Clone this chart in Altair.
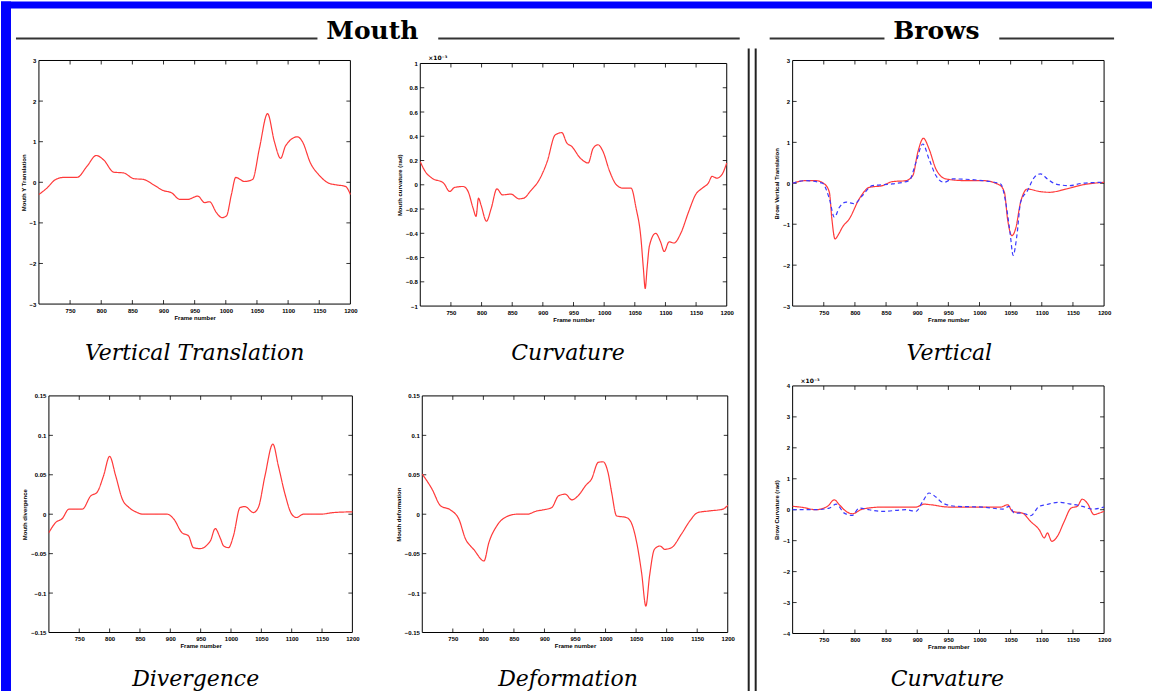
import altair as alt
import pandas as pd

# ---------------- data ----------------
FRAME_TICKS = [750, 800, 850, 900, 950, 1000, 1050, 1100, 1150, 1200]

# Mouth - Vertical Translation
vt_x = [700, 713, 727, 740, 761, 777, 792, 804, 820, 836, 852, 868, 884, 899, 913, 926, 939, 955, 966, 974,
        985, 994, 1001, 1009, 1016, 1030, 1043, 1054, 1067, 1078, 1088, 1096, 1115, 1123, 1136, 1149, 1165, 1176, 1192, 1200]
vt_y = [-0.30, -0.14, 0.07, 0.12, 0.12, 0.39, 0.66, 0.55, 0.25, 0.23, 0.09, 0.07, -0.06, -0.20, -0.26, -0.42, -0.42, -0.34, -0.50, -0.48,
        -0.75, -0.87, -0.83, -0.30, 0.12, 0.02, 0.07, 0.84, 1.69, 1.00, 0.59, 0.90, 1.12, 1.00, 0.47, 0.19, -0.02, -0.06, -0.10, -0.30]

# Mouth - Curvature (x 10^-3)
mc_x = [700, 708, 719, 738, 748, 756, 770, 778, 786, 791, 795, 799, 808, 816, 825, 834, 848, 861, 869, 880,
        894, 907, 920, 931, 939, 947, 961, 974, 982, 990, 998, 1009, 1020, 1031, 1044, 1052, 1060, 1064, 1067, 1070,
        1074, 1084, 1092, 1098, 1106, 1114, 1125, 1138, 1149, 1160, 1170, 1176, 1184, 1192, 1200]
mc_y = [0.19, 0.11, 0.055, 0.014, -0.055, -0.022, -0.014, -0.055, -0.19, -0.26, -0.11, -0.165, -0.30, -0.19, -0.033, -0.083, -0.077, -0.116, -0.11, -0.05,
        0.04, 0.19, 0.41, 0.43, 0.345, 0.317, 0.22, 0.18, 0.30, 0.33, 0.276, 0.11, 0.0, -0.028, -0.028, -0.19, -0.44, -0.69, -0.855, -0.69,
        -0.50, -0.40, -0.47, -0.55, -0.47, -0.48, -0.40, -0.22, -0.083, -0.028, 0.014, 0.069, 0.055, 0.083, 0.18]

# Brows - Vertical (two series)
bv_red_x = [700, 721, 737, 751, 759, 763, 768, 774, 780, 791, 807, 823, 844, 860, 882, 893, 901, 910, 919, 930,
            946, 978, 1005, 1032, 1040, 1045, 1052, 1058, 1066, 1077, 1096, 1112, 1139, 1165, 1200]
bv_red_y = [0, 0.065, 0.065, -0.016, -0.22, -0.87, -1.36, -1.24, -1.07, -0.87, -0.38, -0.10, -0.057, 0.04, 0.065, 0.19, 0.76, 1.10, 0.84, 0.35,
            0.106, 0.065, 0.065, -0.04, -0.22, -0.87, -1.28, -1.11, -0.46, -0.14, -0.20, -0.22, -0.14, -0.04, 0.024]
bv_blue_x = [700, 721, 748, 759, 767, 775, 786, 799, 812, 828, 860, 887, 898, 909, 919, 930, 943, 957, 1005, 1034,
             1042, 1049, 1054, 1060, 1066, 1077, 1088, 1098, 1109, 1122, 1144, 1165, 1200]
bv_blue_y = [0, 0.065, 0, -0.38, -0.83, -0.59, -0.46, -0.50, -0.30, -0.057, -0.016, 0.065, 0.51, 0.96, 0.59, 0.19, 0.024, 0.106, 0.065, -0.016,
             -0.46, -1.20, -1.76, -1.28, -0.46, -0.18, 0.146, 0.23, 0.106, -0.016, -0.057, 0, 0.024]

# Mouth - Divergence
dv_x = [700, 711, 722, 733, 755, 769, 779, 790, 800, 810, 821, 832, 843, 856, 895, 906, 919, 930, 938, 949,
        966, 974, 982, 988, 996, 1004, 1015, 1023, 1037, 1045, 1056, 1069, 1078, 1089, 1100, 1108, 1119, 1147, 1169, 1200]
dv_y = [-0.0233, -0.0106, -0.0055, 0.0064, 0.0064, 0.0233, 0.0275, 0.0487, 0.0733, 0.0487, 0.019, 0.0085, 0.003, 0, 0, -0.0064, -0.0233, -0.0275, -0.0424, -0.0436,
        -0.0339, -0.0182, -0.0297, -0.0403, -0.0424, -0.0275, 0.0085, 0.0097, 0.0021, 0.0085, 0.0487, 0.089, 0.0614, 0.0254, 0, -0.0042, 0, 0, 0.0021, 0.003]

# Mouth - Deformation
df_x = [700, 716, 730, 746, 760, 771, 779, 784, 801, 809, 822, 841, 855, 871, 888, 898, 912, 923, 934, 945,
        955, 968, 977, 988, 996, 1004, 1010, 1018, 1034, 1042, 1051, 1059, 1066, 1072, 1080, 1089, 1097, 1108, 1124, 1138,
        1151, 1170, 1192, 1200]
df_y = [0.0508, 0.0318, 0.0106, 0.0055, -0.0064, -0.0318, -0.0403, -0.0445, -0.0593, -0.036, -0.0148, -0.0021, 0, 0, 0.0042, 0.0055, 0.0085, 0.0233, 0.0254, 0.0182,
        0.0233, 0.0369, 0.0445, 0.0657, 0.0665, 0.053, 0.0275, -0.0021, -0.0042, -0.0106, -0.036, -0.0742, -0.1165, -0.0784, -0.0445, -0.0403, -0.0445, -0.0424, -0.0254, -0.0085,
        0.0021, 0.0042, 0.0064, 0.0114]

# Brows - Curvature (x 10^-3, two series)
bc_red_x = [700, 716, 737, 756, 767, 775, 786, 796, 812, 844, 898, 911, 922, 951, 1005, 1034, 1045, 1053, 1069, 1082,
            1096, 1104, 1109, 1116, 1125, 1136, 1147, 1157, 1165, 1173, 1184, 1192, 1200]
bc_red_y = [0.11, 0.075, 0, 0.11, 0.32, 0.16, -0.054, -0.13, 0.02, 0.086, 0.086, 0.18, 0.16, 0.086, 0.086, 0.086, 0.16, -0.054, -0.11, -0.38,
            -0.65, -0.91, -0.75, -1.02, -0.86, -0.38, 0.054, 0.11, 0.34, 0.215, -0.16, -0.11, -0.054]
bc_blue_x = [700, 737, 759, 770, 783, 796, 807, 823, 844, 882, 898, 909, 919, 930, 941, 962, 1005, 1037, 1048, 1056,
             1069, 1082, 1096, 1106, 1128, 1144, 1165, 1181, 1200]
bc_blue_y = [0, 0, 0.054, 0.18, -0.11, -0.18, 0.054, 0, -0.054, 0, -0.054, 0.27, 0.54, 0.41, 0.215, 0.11, 0.086, 0.02, 0.11, -0.11,
             -0.11, -0.19, 0.11, 0.16, 0.24, 0.19, 0.11, 0.02, 0.086]

TICKS_3 = [-3, -2, -1, 0, 1, 2, 3]
TICKS_1 = [-1, -0.8, -0.6, -0.4, -0.2, 0, 0.2, 0.4, 0.6, 0.8, 1]
TICKS_015 = [-0.15, -0.1, -0.05, 0, 0.05, 0.1, 0.15]
TICKS_4 = [-4, -3, -2, -1, 0, 1, 2, 3, 4]

RED = "#ff3a3a"
BLUE = "#3a3aff"
SERIF = "DejaVu Serif"
CELL_W, CELL_H = 314, 248

one = pd.DataFrame({"a": [0]})


def make_df(series):
    rows = []
    for name, xs, ys in series:
        for a, b in zip(xs, ys):
            rows.append({"frame": a, "value": b, "series": name})
    return pd.DataFrame(rows)


def label(text, x, y, size, weight="normal", style="normal", font=SERIF, align="center"):
    return alt.Chart(one).mark_text(text=text, fontSize=size, fontWeight=weight, fontStyle=style, font=font,
                                    align=align, baseline="alphabetic", color="black").encode(
        x=alt.value(x), y=alt.value(y))


def panel(series, ydom, yticks, ytitle, title, box, title_x, title_y, extras=()):
    ox, oy, pw, ph = box
    data = make_df(series)
    xsc = alt.Scale(domain=[700, 1200], range=[ox, ox + pw], nice=False, zero=False)
    ysc = alt.Scale(domain=ydom, range=[oy + ph, oy], nice=False, zero=False)
    xaxis = alt.Axis(values=FRAME_TICKS, ticks=False, domain=False, grid=False, labelFontSize=6, format="d",
                     labelColor="black", labelFontWeight="bold", labelPadding=3, labelFlush=False,
                     labelOverlap=False, title="Frame number", titleFontSize=6, titleFontWeight="bold",
                     titlePadding=1, titleColor="black", offset=-(CELL_H - oy - ph))
    yaxis = alt.Axis(values=yticks, ticks=False, domain=False, grid=False, labelFontSize=6,
                     labelColor="black", labelFontWeight="bold", labelPadding=3, labelFlush=False,
                     labelOverlap=False, format=".2~f", title=ytitle, titleFontSize=6,
                     titleFontWeight="bold", titlePadding=3, titleColor="black", offset=-ox)
    lines = alt.Chart(data).mark_line(strokeWidth=1.2, interpolate="monotone").encode(
        x=alt.X("frame:Q", scale=xsc, axis=xaxis),
        y=alt.Y("value:Q", scale=ysc, axis=yaxis),
        color=alt.Color("series:N", scale=alt.Scale(domain=["red", "blue"], range=[RED, BLUE]), legend=None),
        strokeDash=alt.StrokeDash("series:N", scale=alt.Scale(domain=["red", "blue"], range=[[1, 0], [4, 3]]),
                                  legend=None),
        order=alt.Order("frame:Q"),
    )
    xt = pd.DataFrame({"frame": FRAME_TICKS[:-1]})
    yt = pd.DataFrame({"value": yticks[1:-1]})
    frame = alt.Chart(one).mark_rect(fillOpacity=0, stroke="black", strokeWidth=1).encode(
        x=alt.value(ox), x2=alt.value(ox + pw), y=alt.value(oy), y2=alt.value(oy + ph))
    tick_layers = [
        alt.Chart(xt).mark_rule(color="black", strokeWidth=0.8).encode(
            x=alt.X("frame:Q", scale=xsc, axis=xaxis), y=alt.value(oy + ph), y2=alt.value(oy + ph - 4)),
        alt.Chart(xt).mark_rule(color="black", strokeWidth=0.8).encode(
            x=alt.X("frame:Q", scale=xsc, axis=xaxis), y=alt.value(oy), y2=alt.value(oy + 4)),
        alt.Chart(yt).mark_rule(color="black", strokeWidth=0.8).encode(
            y=alt.Y("value:Q", scale=ysc, axis=yaxis), x=alt.value(ox), x2=alt.value(ox + 4)),
        alt.Chart(yt).mark_rule(color="black", strokeWidth=0.8).encode(
            y=alt.Y("value:Q", scale=ysc, axis=yaxis), x=alt.value(ox + pw), x2=alt.value(ox + pw - 4)),
    ]
    ttl = label(title, title_x, title_y, 22, style="italic")
    layers = list(extras) + [frame] + tick_layers + [lines, ttl]
    return alt.layer(*layers).properties(width=CELL_W, height=CELL_H)


def band(x, x2, y, y2, color="#0000ff"):
    return alt.Chart(one).mark_rect(color=color).encode(
        x=alt.value(x), x2=alt.value(x2), y=alt.value(y), y2=alt.value(y2))


def hline(x, x2, y, width=2, color="#333333"):
    return alt.Chart(one).mark_rule(color=color, strokeWidth=width).encode(
        x=alt.value(x), x2=alt.value(x2), y=alt.value(y))


def vline(x, y, y2, width=2, color="#222222"):
    return alt.Chart(one).mark_rule(color=color, strokeWidth=width).encode(
        x=alt.value(x), y=alt.value(y), y2=alt.value(y2))


# decorations drawn relative to the first cell (its origin sits at 38,59 of the page)
deco = [
    band(-38, -28, -59, 632),
    band(-38, 1115, -59, -52),
    hline(-23, 279, -22), hline(400, 702, -22), hline(732, 847, -22), hline(962, 1077, -22),
    label("Mouth", 334, -22, 25, weight="bold"),
    label("Brows", 899, -22, 25, weight="bold"),
    vline(711, -12, 632), vline(718, -12, 632),
]


def exp_note(ox, oy):
    return [label("×10⁻³", ox + 8, oy - 3, 6, weight="bold", font="DejaVu Sans", align="left")]


p1 = panel([("red", vt_x, vt_y)], [-3, 3], TICKS_3, "Mouth Y Translation", "Vertical Translation",
           (0, 0, 312, 244), 156, 300, deco)
p2 = panel([("red", mc_x, mc_y)], [-1, 1], TICKS_1, "Mouth curvature (rad)", "Curvature",
           (5, 3, 307, 243), 153, 300, exp_note(5, 3))
p3 = panel([("red", bv_red_x, bv_red_y), ("blue", bv_blue_x, bv_blue_y)], [-3, 3], TICKS_3,
           "Brow Vertical Translation", "Vertical", (1, 0, 312, 246), 158, 300)
p4 = panel([("red", dv_x, dv_y)], [-0.15, 0.15], TICKS_015, "Mouth divergence", "Divergence",
           (10, 10, 304, 237), 157, 301)
p5 = panel([("red", df_x, df_y)], [-0.15, 0.15], TICKS_015, "Mouth deformation", "Deformation",
           (7, 10, 306, 237), 153, 301)
p6 = panel([("red", bc_red_x, bc_red_y), ("blue", bc_blue_x, bc_blue_y)], [-4, 4], TICKS_4,
           "Brow Curvature (rad)", "Curvature", (1, 0, 312, 248), 156, 301, exp_note(1, 0))

chart = alt.concat(p1, p2, p3, p4, p5, p6, columns=3, spacing={"row": 78, "column": 63}, bounds="flush",
                   padding=0, background="white").configure_view(stroke="transparent")

chart.save("out.html", embed_options={"renderer": "svg", "actions": False})
